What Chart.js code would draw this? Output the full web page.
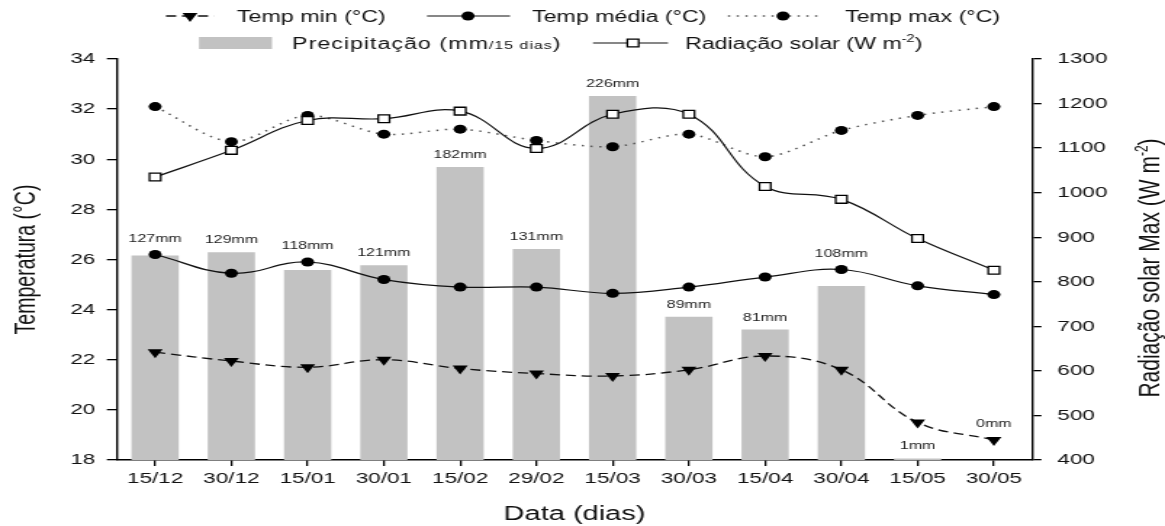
<!DOCTYPE html>
<html>
<head>
<meta charset="utf-8">
<script src="https://cdn.jsdelivr.net/npm/chart.js@4.4.1/dist/chart.umd.min.js"></script>
<style>
    html, body { margin: 0; padding: 0; background: #fff; overflow: hidden; }
    #wrap { width: 1165px; height: 526px; overflow: hidden; }
    #chart { display: block; transform-origin: 0 0; }
</style>
</head>
<body>
<div id="wrap"><canvas id="chart" width="803" height="526"></canvas></div>
<script>
const dateLabels = ['15/12', '30/12', '15/01', '30/01', '15/02', '29/02', '15/03', '30/03', '15/04', '30/04', '15/05', '30/05'];
const precipitation = [127, 129, 118, 121, 182, 131, 226, 89, 81, 108, 1, 0];
const tempMin = [22.3, 21.95, 21.7, 22.0, 21.65, 21.45, 21.35, 21.6, 22.15, 21.6, 19.5, 18.8];
const tempMedia = [26.2, 25.45, 25.9, 25.2, 24.9, 24.9, 24.65, 24.9, 25.3, 25.6, 24.95, 24.6];
const tempMax = [32.1, 30.7, 31.75, 31.0, 31.2, 30.75, 30.5, 31.0, 30.1, 31.15, 31.75, 32.1];
const solarRadiation = [1035, 1095, 1162, 1166, 1183, 1099, 1176, 1176, 1014, 985, 897, 826];

const tempRange = [18, 34];
const radRange = [400, 1300];
const precipRange = [0, 249];

// the original figure is stretched sideways, so draw narrow and scale the canvas
const STRETCH = 1165 / 803;
const canvas = document.getElementById('chart');
canvas.style.transform = 'scaleX(' + STRETCH + ')';
const px = (v) => v / STRETCH;

const FONT = '"Liberation Sans", Arial, Helvetica, sans-serif';
const INK = '#111';

function drawMarker(ctx, type, x, y) {
    ctx.save();
    ctx.setLineDash([]);
    ctx.fillStyle = '#000';
    ctx.strokeStyle = '#000';
    ctx.lineWidth = 1.3;
    ctx.beginPath();
    if (type === 'tri') {
        const r = 6;
        ctx.moveTo(x, y + r);
        ctx.lineTo(x - r * 0.866, y - r / 2);
        ctx.lineTo(x + r * 0.866, y - r / 2);
        ctx.closePath();
        ctx.fill();
    } else if (type === 'dot') {
        ctx.arc(x, y, 4.5, 0, Math.PI * 2);
        ctx.fill();
    } else if (type === 'sq') {
        const s = 3.9;
        ctx.fillStyle = '#fff';
        ctx.rect(x - s, y - s, s * 2, s * 2);
        ctx.fill();
        ctx.stroke();
    }
    ctx.restore();
}

function legendLine(ctx, x1, x2, y, dash, width, color) {
    ctx.save();
    ctx.strokeStyle = color;
    ctx.lineWidth = width;
    ctx.setLineDash(dash);
    ctx.beginPath();
    ctx.moveTo(x1, y);
    ctx.lineTo(x2, y);
    ctx.stroke();
    ctx.restore();
}

// text pieces: [string, size, raise]
function drawPieces(ctx, pieces, x, y) {
    let cx = x;
    pieces.forEach(([str, size, raise]) => {
        ctx.font = size + 'px ' + FONT;
        ctx.fillText(str, cx, y - (raise || 0));
        cx += ctx.measureText(str).width;
    });
    return cx - x;
}

function measurePieces(ctx, pieces) {
    let w = 0;
    pieces.forEach(([str, size]) => {
        ctx.font = size + 'px ' + FONT;
        w += ctx.measureText(str).width;
    });
    return w;
}

const decorations = {
    id: 'decorations',
    afterDatasetsDraw(chart) {
        const ctx = chart.ctx;
        const barMeta = chart.getDatasetMeta(0);
        const guardMetas = [chart.getDatasetMeta(1), chart.getDatasetMeta(2)];

        ctx.save();
        ctx.fillStyle = '#222';
        ctx.font = '11px ' + FONT;
        ctx.textAlign = 'center';
        ctx.textBaseline = 'middle';
        barMeta.data.forEach((bar, i) => {
            let cy = bar.y - 12;
            guardMetas.forEach((meta) => {
                const py = meta.data[i].y;
                if (py > cy - 9 && py < bar.y + 10) {
                    cy = Math.min(cy, py - 16);
                }
            });
            ctx.fillText(precipitation[i] + 'mm', bar.x, cy);
        });
        ctx.restore();
    },
    afterDraw(chart) {
        const ctx = chart.ctx;
        const area = chart.chartArea;
        ctx.save();
        ctx.fillStyle = INK;
        ctx.textBaseline = 'alphabetic';
        ctx.textAlign = 'left';

        // legend row 1
        const y1 = 16;
        const b1 = y1 + 5.7;
        legendLine(ctx, px(166), px(214), y1, [7, 4], 1.3, '#111');
        drawMarker(ctx, 'tri', px(190), y1);
        drawPieces(ctx, [['Temp min (°C)', 16]], px(237), b1);

        legendLine(ctx, px(427), px(510), y1, [], 1.2, '#111');
        drawMarker(ctx, 'dot', px(468), y1);
        drawPieces(ctx, [['Temp média (°C)', 16]], px(532), b1);

        legendLine(ctx, px(728), px(818), y1, [1.5, 4.5], 1.5, '#555');
        drawMarker(ctx, 'dot', px(783), y1);
        drawPieces(ctx, [['Temp max (°C)', 16]], px(845), b1);

        // legend row 2
        const y2 = 43;
        const b2 = y2 + 5.7;
        ctx.fillStyle = '#c2c2c2';
        ctx.fillRect(px(199), y2 - 6, px(272) - px(199), 12);
        ctx.fillStyle = INK;
        ctx.save();
        ctx.letterSpacing = '0.7px';
        drawPieces(ctx, [['Precipitação (mm', 16], ['/15 dias', 11], [')', 16]], px(292), b2);
        ctx.restore();

        legendLine(ctx, px(593), px(668), y2, [], 1.2, '#111');
        drawMarker(ctx, 'sq', px(633), y2);
        drawPieces(ctx, [['Radiação solar (W m', 16], ['-2', 10, 7], [')', 16]], px(685), b2);

        // axis titles
        ctx.font = '20px ' + FONT;
        ctx.textAlign = 'center';
        ctx.textBaseline = 'middle';
        ctx.fillText('Data (dias)', (area.left + area.right) / 2, 514);

        ctx.save();
        ctx.translate(px(27), (area.top + area.bottom) / 2);
        ctx.rotate(-Math.PI / 2);
        ctx.font = '19.5px ' + FONT;
        ctx.fillText('Temperatura (°C)', 0, 0);
        ctx.restore();

        const rightTitle = [['Radiação solar Max (W m', 21], ['-2', 12, 8], [')', 21]];
        ctx.save();
        ctx.translate(px(1148), 268);
        ctx.rotate(-Math.PI / 2);
        ctx.textAlign = 'left';
        ctx.textBaseline = 'alphabetic';
        const w = measurePieces(ctx, rightTitle);
        drawPieces(ctx, rightTitle, -w / 2, 7.5);
        ctx.restore();

        ctx.restore();
    }
};

const axisGrid = (len) => ({
    display: true,
    drawOnChartArea: false,
    offset: false,
    tickLength: len,
    color: '#000',
    lineWidth: 1.3
});
const axisBorder = { display: true, color: '#000', width: 1.4 };
const tickFont = { family: FONT, size: 15.5 };
const plainNumber = (v) => String(v);

new Chart(canvas, {
    data: {
        labels: dateLabels,
        datasets: [
            {
                type: 'bar',
                label: 'Precipitação (mm/15 dias)',
                data: precipitation,
                yAxisID: 'yP',
                backgroundColor: '#c2c2c2',
                barPercentage: 0.62,
                categoryPercentage: 1,
                order: 10
            },
            {
                type: 'line',
                label: 'Temp min (°C)',
                data: tempMin,
                yAxisID: 'y',
                borderColor: '#111',
                borderWidth: 1.3,
                borderDash: [7, 4],
                tension: 0.4,
                pointStyle: 'triangle',
                pointRotation: 180,
                pointRadius: 6,
                pointBackgroundColor: '#000',
                pointBorderColor: '#000',
                pointBorderWidth: 0,
                order: 4
            },
            {
                type: 'line',
                label: 'Temp média (°C)',
                data: tempMedia,
                yAxisID: 'y',
                borderColor: '#111',
                borderWidth: 1.2,
                tension: 0.4,
                pointStyle: 'circle',
                pointRadius: 4.5,
                pointBackgroundColor: '#000',
                pointBorderColor: '#000',
                pointBorderWidth: 0,
                order: 3
            },
            {
                type: 'line',
                label: 'Temp max (°C)',
                data: tempMax,
                yAxisID: 'y',
                borderColor: '#555',
                borderWidth: 1.5,
                borderDash: [1.5, 4.5],
                tension: 0.3,
                pointStyle: 'circle',
                pointRadius: 4.5,
                pointBackgroundColor: '#000',
                pointBorderColor: '#000',
                pointBorderWidth: 0,
                order: 2
            },
            {
                type: 'line',
                label: 'Radiação solar (W m-2)',
                data: solarRadiation,
                yAxisID: 'yR',
                borderColor: '#111',
                borderWidth: 1.2,
                tension: 0.4,
                pointStyle: 'rect',
                pointRadius: 5.5,
                pointBackgroundColor: '#fff',
                pointBorderColor: '#000',
                pointBorderWidth: 1.3,
                order: 1
            }
        ]
    },
    options: {
        responsive: false,
        animation: false,
        devicePixelRatio: 1,
        layout: { padding: { top: 59, left: 0, right: 0, bottom: 0 } },
        plugins: {
            legend: { display: false },
            tooltip: { enabled: false }
        },
        scales: {
            x: {
                offset: true,
                grid: axisGrid(6),
                border: axisBorder,
                ticks: { font: tickFont, color: INK, padding: 3, maxRotation: 0, autoSkip: false },
                afterFit: (scale) => { scale.height = 66; }
            },
            y: {
                position: 'left',
                min: tempRange[0],
                max: tempRange[1],
                grid: axisGrid(7),
                border: axisBorder,
                ticks: { stepSize: 2, font: tickFont, color: INK, padding: 8, callback: plainNumber },
                afterFit: (scale) => { scale.width = px(117); }
            },
            yR: {
                position: 'right',
                min: radRange[0],
                max: radRange[1],
                grid: axisGrid(6.5),
                border: axisBorder,
                ticks: { stepSize: 100, font: tickFont, color: INK, padding: 11, callback: plainNumber },
                afterFit: (scale) => { scale.width = 803 - px(1032); }
            },
            yP: {
                display: false,
                min: precipRange[0],
                max: precipRange[1]
            }
        }
    },
    plugins: [decorations]
});
</script>
</body>
</html>
